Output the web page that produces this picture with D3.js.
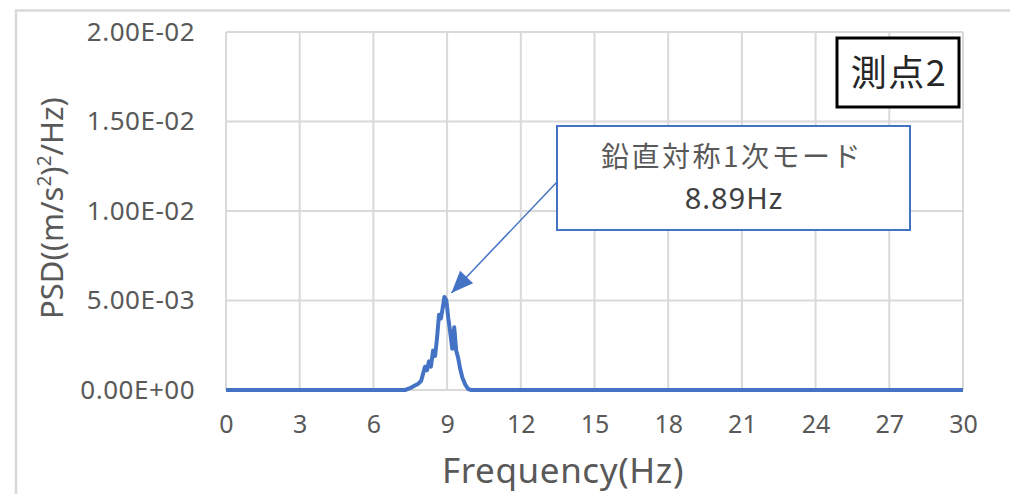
<!DOCTYPE html>
<html>
<head>
<meta charset="utf-8">
<script src="https://cdn.jsdelivr.net/npm/d3@7"></script>
<style>
  html, body { margin: 0; padding: 0; background: #fff; }
  svg { display: block; font-family: "Noto Sans", "Noto Sans CJK JP", sans-serif; }
</style>
</head>
<body>
<svg id="chart" width="1010" height="494"></svg>
<script>
// PSD spectrum at measuring point 2
const frequency = [0, 7.29, 7.49, 7.65, 7.81, 7.94, 8.02, 8.10, 8.18, 8.26, 8.34, 8.43, 8.51, 8.59,
  8.67, 8.75, 8.81, 8.89, 8.97, 9.05, 9.13, 9.21, 9.29, 9.37, 9.45, 9.53, 9.62, 9.74, 9.86, 9.98, 30];
const psd = [0, 0, 0.0001, 0.00022, 0.00034, 0.0005, 0.0009, 0.0013, 0.0011, 0.0016, 0.0013, 0.0022, 0.0019, 0.0029,
  0.0042, 0.0040, 0.0045, 0.0052, 0.0050, 0.0040, 0.0032, 0.0023, 0.0035, 0.0022, 0.0018, 0.0012, 0.0007, 0.0003, 0.00005, 0, 0];

const xTicks = [0, 3, 6, 9, 12, 15, 18, 21, 24, 27, 30];
const yTicks = [0, 0.005, 0.01, 0.015, 0.02];
const yTickLabels = ["0.00E+00", "5.00E-03", "1.00E-02", "1.50E-02", "2.00E-02"];

const peakFreq = 8.89;
const peakPsd = 0.0052;
const modeLabel = "鉛直対称1次モード";
const peakLabel = peakFreq.toFixed(2) + "Hz";
const pointLabel = "測点2";

const svg = d3.select("#chart");

// chart frame
svg.append("path")
  .attr("d", "M16,494 L16,10.5 L1010,10.5")
  .attr("fill", "none").attr("stroke", "#d9d9d9").attr("stroke-width", 2.5);

const plot = { left: 226, right: 963, top: 32, bottom: 390 };

const x = d3.scaleLinear().domain([0, 30]).range([plot.left, plot.right]);
const y = d3.scaleLinear().domain([0, 0.02]).range([plot.bottom, plot.top]);

// gridlines
svg.append("g").selectAll("line").data(yTicks).join("line")
  .attr("x1", plot.left).attr("x2", plot.right)
  .attr("y1", d => y(d)).attr("y2", d => y(d))
  .attr("stroke", "#d9d9d9").attr("stroke-width", 2);
svg.append("g").selectAll("line").data(xTicks).join("line")
  .attr("x1", d => x(d)).attr("x2", d => x(d))
  .attr("y1", plot.top).attr("y2", plot.bottom)
  .attr("stroke", "#d9d9d9").attr("stroke-width", 2);

// axes (labels only, lines hidden)
const xAxis = svg.append("g")
  .attr("transform", `translate(0,${plot.bottom})`)
  .call(d3.axisBottom(x).tickValues(xTicks).tickSize(0).tickPadding(25).tickFormat(d3.format("d")));
xAxis.select(".domain").remove();
xAxis.selectAll("text").attr("font-size", 25).attr("fill", "#595959")
  .attr("font-family", "'Noto Sans', sans-serif");

const yAxis = svg.append("g")
  .attr("transform", `translate(${plot.left},0)`)
  .call(d3.axisLeft(y).tickValues(yTicks).tickSize(0).tickPadding(31)
    .tickFormat((d, i) => yTickLabels[i]));
yAxis.select(".domain").remove();
yAxis.selectAll("text").attr("font-size", 26).attr("letter-spacing", 0.5).attr("fill", "#595959")
  .attr("font-family", "'Noto Sans', sans-serif");

// spectrum line
const line = d3.line().x((d, i) => x(frequency[i])).y(d => y(d));
svg.append("path")
  .datum(psd)
  .attr("d", line)
  .attr("fill", "none")
  .attr("stroke", "#4472C4")
  .attr("stroke-width", 4)
  .attr("stroke-linejoin", "round");

// axis titles
svg.append("text")
  .attr("x", 563)
  .attr("y", 483)
  .attr("text-anchor", "middle")
  .attr("font-size", 35)
  .attr("letter-spacing", 0.6)
  .attr("fill", "#595959")
  .text("Frequency(Hz)");

const yTitle = svg.append("text")
  .attr("transform", "translate(63,208) rotate(-90)")
  .attr("text-anchor", "middle")
  .attr("font-size", 31)
  .attr("fill", "#595959");
yTitle.append("tspan").text("PSD((m/s");
yTitle.append("tspan").attr("font-size", 19).attr("dy", -12).text("2");
yTitle.append("tspan").attr("dy", 12).text(")");
yTitle.append("tspan").attr("font-size", 19).attr("dy", -12).text("2");
yTitle.append("tspan").attr("dy", 12).text("/Hz)");

// callout for the first vertical symmetric mode
const box = { x0: 557, y0: 126, x1: 910, y1: 230 };
const tipX = x(peakFreq) + 7, tipY = y(peakPsd) - 4;
svg.append("line")
  .attr("x1", box.x0).attr("y1", 182)
  .attr("x2", tipX).attr("y2", tipY)
  .attr("stroke", "#4472C4").attr("stroke-width", 1.5);
{
  const ang = Math.atan2(tipY - 182, tipX - box.x0);
  const len = 22, half = 9;
  const bx = tipX - len * Math.cos(ang), by = tipY - len * Math.sin(ang);
  const px = -Math.sin(ang) * half, py = Math.cos(ang) * half;
  svg.append("path")
    .attr("d", `M${tipX},${tipY} L${bx + px},${by + py} L${bx - px},${by - py} Z`)
    .attr("fill", "#4472C4");
}

svg.append("rect")
  .attr("x", box.x0).attr("y", box.y0)
  .attr("width", box.x1 - box.x0).attr("height", box.y1 - box.y0)
  .attr("fill", "#fff").attr("stroke", "#4472C4").attr("stroke-width", 2);
svg.append("text")
  .attr("x", 732).attr("y", 167)
  .attr("text-anchor", "middle").attr("font-size", 28)
  .attr("letter-spacing", 2.5)
  .attr("font-family", "'Noto Sans CJK JP', sans-serif")
  .attr("fill", "#595959").text(modeLabel);
svg.append("text")
  .attr("x", 734).attr("y", 209)
  .attr("text-anchor", "middle").attr("font-size", 29)
  .attr("letter-spacing", 1)
  .attr("fill", "#404040").text(peakLabel);

// measuring point label
svg.append("rect")
  .attr("x", 837).attr("y", 38).attr("width", 122).attr("height", 69)
  .attr("fill", "#fff").attr("stroke", "#000").attr("stroke-width", 3);
svg.append("text")
  .attr("x", 899).attr("y", 86)
  .attr("text-anchor", "middle").attr("font-size", 36)
  .attr("letter-spacing", 1.5)
  .attr("font-family", "'Noto Sans CJK JP', sans-serif")
  .attr("fill", "#262626").text(pointLabel);
</script>
</body>
</html>
